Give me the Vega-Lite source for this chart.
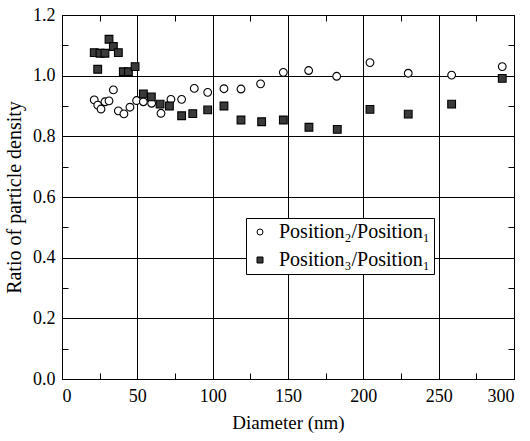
{
  "$schema": "https://vega.github.io/schema/vega-lite/v6.json",
  "autosize": "none",
  "width": 452,
  "height": 364,
  "padding": {"left": 62, "top": 15, "right": 16, "bottom": 62},
  "background": "white",
  "config": {
    "view": {"stroke": "black", "strokeWidth": 1},
    "font": "Liberation Serif"
  },
  "data": {"values": [
    {"d": 21.4, "v": 0.920, "s": "Position₂/Position₁"},
    {"d": 23.7, "v": 0.903, "s": "Position₂/Position₁"},
    {"d": 25.9, "v": 0.890, "s": "Position₂/Position₁"},
    {"d": 28.5, "v": 0.914, "s": "Position₂/Position₁"},
    {"d": 31.2, "v": 0.917, "s": "Position₂/Position₁"},
    {"d": 34.1, "v": 0.953, "s": "Position₂/Position₁"},
    {"d": 37.4, "v": 0.884, "s": "Position₂/Position₁"},
    {"d": 41.1, "v": 0.874, "s": "Position₂/Position₁"},
    {"d": 45.1, "v": 0.896, "s": "Position₂/Position₁"},
    {"d": 49.5, "v": 0.918, "s": "Position₂/Position₁"},
    {"d": 54.0, "v": 0.914, "s": "Position₂/Position₁"},
    {"d": 59.5, "v": 0.909, "s": "Position₂/Position₁"},
    {"d": 65.7, "v": 0.876, "s": "Position₂/Position₁"},
    {"d": 72.3, "v": 0.922, "s": "Position₂/Position₁"},
    {"d": 79.4, "v": 0.922, "s": "Position₂/Position₁"},
    {"d": 87.8, "v": 0.958, "s": "Position₂/Position₁"},
    {"d": 96.7, "v": 0.945, "s": "Position₂/Position₁"},
    {"d": 107.5, "v": 0.957, "s": "Position₂/Position₁"},
    {"d": 118.8, "v": 0.956, "s": "Position₂/Position₁"},
    {"d": 131.8, "v": 0.973, "s": "Position₂/Position₁"},
    {"d": 146.9, "v": 1.011, "s": "Position₂/Position₁"},
    {"d": 163.7, "v": 1.017, "s": "Position₂/Position₁"},
    {"d": 182.3, "v": 0.998, "s": "Position₂/Position₁"},
    {"d": 204.4, "v": 1.043, "s": "Position₂/Position₁"},
    {"d": 229.8, "v": 1.008, "s": "Position₂/Position₁"},
    {"d": 258.6, "v": 1.002, "s": "Position₂/Position₁"},
    {"d": 292.2, "v": 1.030, "s": "Position₂/Position₁"},
    {"d": 21.4, "v": 1.076, "s": "Position₃/Position₁"},
    {"d": 25.2, "v": 1.074, "s": "Position₃/Position₁"},
    {"d": 28.5, "v": 1.074, "s": "Position₃/Position₁"},
    {"d": 31.2, "v": 1.120, "s": "Position₃/Position₁"},
    {"d": 34.1, "v": 1.096, "s": "Position₃/Position₁"},
    {"d": 37.4, "v": 1.076, "s": "Position₃/Position₁"},
    {"d": 23.7, "v": 1.021, "s": "Position₃/Position₁"},
    {"d": 40.7, "v": 1.013, "s": "Position₃/Position₁"},
    {"d": 44.1, "v": 1.013, "s": "Position₃/Position₁"},
    {"d": 48.5, "v": 1.030, "s": "Position₃/Position₁"},
    {"d": 54.0, "v": 0.940, "s": "Position₃/Position₁"},
    {"d": 59.3, "v": 0.930, "s": "Position₃/Position₁"},
    {"d": 65.1, "v": 0.906, "s": "Position₃/Position₁"},
    {"d": 71.3, "v": 0.900, "s": "Position₃/Position₁"},
    {"d": 79.4, "v": 0.868, "s": "Position₃/Position₁"},
    {"d": 86.8, "v": 0.875, "s": "Position₃/Position₁"},
    {"d": 96.7, "v": 0.887, "s": "Position₃/Position₁"},
    {"d": 107.5, "v": 0.900, "s": "Position₃/Position₁"},
    {"d": 118.8, "v": 0.854, "s": "Position₃/Position₁"},
    {"d": 132.5, "v": 0.848, "s": "Position₃/Position₁"},
    {"d": 146.9, "v": 0.854, "s": "Position₃/Position₁"},
    {"d": 163.9, "v": 0.830, "s": "Position₃/Position₁"},
    {"d": 182.7, "v": 0.823, "s": "Position₃/Position₁"},
    {"d": 204.4, "v": 0.889, "s": "Position₃/Position₁"},
    {"d": 229.8, "v": 0.873, "s": "Position₃/Position₁"},
    {"d": 258.6, "v": 0.906, "s": "Position₃/Position₁"},
    {"d": 292.2, "v": 0.991, "s": "Position₃/Position₁"}
  ]},
  "resolve": {"axis": {"x": "independent", "y": "independent"}},
  "layer": [
    {
      "mark": {"type": "point", "filled": true, "strokeWidth": 1.1, "opacity": 1},
      "encoding": {
        "x": {"field": "d", "type": "quantitative",
          "scale": {"domain": [0, 300], "nice": false, "zero": false},
          "axis": {"orient": "bottom", "values": [0, 50, 100, 150, 200, 250, 300],
            "grid": true, "gridColor": "black", "gridWidth": 1, "gridOpacity": 1,
            "domainColor": "black", "ticks": false, "labelPadding": 8,
            "labelFont": "Liberation Serif", "labelFontSize": 18, "labelColor": "black",
            "title": "Diameter (nm)", "titleFont": "Liberation Serif", "titleFontSize": 19,
            "titleFontWeight": "normal", "titleColor": "black", "titlePadding": 8}},
        "y": {"field": "v", "type": "quantitative",
          "scale": {"domain": [0, 1.2], "nice": false, "zero": false},
          "axis": {"orient": "left", "values": [0, 0.2, 0.4, 0.6, 0.8, 1.0, 1.2], "format": ".1f",
            "grid": true, "gridColor": "black", "gridWidth": 1, "gridOpacity": 1,
            "domainColor": "black", "ticks": false, "labelPadding": 7,
            "labelFont": "Liberation Serif", "labelFontSize": 18, "labelColor": "black",
            "title": "Ratio of particle density", "titleFont": "Liberation Serif", "titleFontSize": 20,
            "titleFontWeight": "normal", "titleColor": "black", "titlePadding": 8}},
        "shape": {"field": "s", "type": "nominal",
          "scale": {"domain": ["Position₂/Position₁", "Position₃/Position₁"], "range": ["circle", "square"]},
          "legend": {"orient": "none", "legendX": 184, "legendY": 203, "title": null,
            "fillColor": "white", "strokeColor": "black", "padding": 4, "rowPadding": 8,
            "labelFont": "Liberation Serif", "labelFontSize": 20, "labelColor": "black",
            "symbolSize": 36, "symbolStrokeWidth": 1, "labelOffset": 9, "offset": 0}},
        "fill": {"field": "s", "type": "nominal",
          "scale": {"domain": ["Position₂/Position₁", "Position₃/Position₁"], "range": ["white", "#3a3a3a"]},
          "legend": {"orient": "none", "legendX": 184, "legendY": 203, "title": null,
            "fillColor": "white", "strokeColor": "black", "padding": 4, "rowPadding": 8,
            "labelFont": "Liberation Serif", "labelFontSize": 20, "labelColor": "black",
            "symbolSize": 36, "symbolStrokeWidth": 1, "labelOffset": 9, "offset": 0}},
        "stroke": {"field": "s", "type": "nominal",
          "scale": {"domain": ["Position₂/Position₁", "Position₃/Position₁"], "range": ["black", "black"]},
          "legend": {"orient": "none", "legendX": 184, "legendY": 203, "title": null,
            "fillColor": "white", "strokeColor": "black", "padding": 4, "rowPadding": 8,
            "labelFont": "Liberation Serif", "labelFontSize": 20, "labelColor": "black",
            "symbolSize": 36, "symbolStrokeWidth": 1, "labelOffset": 9, "offset": 0}},
        "size": {"value": 60}
      }
    },
    {
      "mark": {"type": "point", "opacity": 0},
      "encoding": {
        "x": {"field": "d", "type": "quantitative",
          "axis": {"orient": "top", "values": [25, 75, 125, 175, 225, 275], "labels": false, "grid": false,
            "domain": false, "tickColor": "black", "tickSize": 6, "offset": -6, "title": null}},
        "y": {"field": "v", "type": "quantitative",
          "axis": {"orient": "right", "values": [0.1, 0.3, 0.5, 0.7, 0.9, 1.1], "labels": false, "grid": false,
            "domain": false, "tickColor": "black", "tickSize": 6, "offset": -6, "title": null}}
      }
    },
    {
      "mark": {"type": "point", "opacity": 0},
      "encoding": {
        "x": {"field": "d", "type": "quantitative",
          "axis": {"orient": "bottom", "values": [25, 75, 125, 175, 225, 275], "labels": false, "grid": false,
            "domain": false, "tickColor": "black", "tickSize": 6, "offset": -6, "title": null}},
        "y": {"field": "v", "type": "quantitative",
          "axis": {"orient": "left", "values": [0.1, 0.3, 0.5, 0.7, 0.9, 1.1], "labels": false, "grid": false,
            "domain": false, "tickColor": "black", "tickSize": 6, "offset": -6, "title": null}}
      }
    }
  ]
}
